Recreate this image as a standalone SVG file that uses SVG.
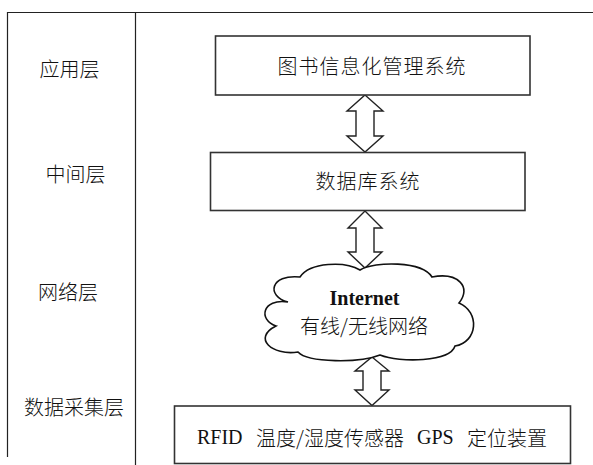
<svg xmlns="http://www.w3.org/2000/svg" width="593" height="465" viewBox="0 0 593 465">
<style>
.frame{stroke:#222;stroke-width:1.2;fill:none}
.box{fill:#fff;stroke:#333;stroke-width:1.6}
.cjk{font-family:"Noto Sans CJK SC","Noto Sans CJK JP",sans-serif;font-size:20px;font-weight:300;fill:#111;dominant-baseline:central}
.lat{font-family:"Liberation Serif","Times New Roman",serif;font-size:20px;fill:#111}
.arrow{fill:#fff;stroke:#222;stroke-width:1.4;stroke-linejoin:miter}
.cloud{fill:#fff;stroke:#111;stroke-width:1.6}
</style>
<rect width="593" height="465" fill="#fff"/>
<g id="frame">
<path class="frame" d="M7.5,457 V12.5 H593 M135.5,12.5 V465"/>
</g>
<g id="labels">
<text class="cjk" x="69.5" y="68" text-anchor="middle">应用层</text>
<text class="cjk" x="75.5" y="173" text-anchor="middle">中间层</text>
<text class="cjk" x="68" y="291.5" text-anchor="middle">网络层</text>
<text class="cjk" x="74" y="406" text-anchor="middle">数据采集层</text>
</g>
<g id="connectors">
<polygon class="arrow" points="365,95 383,111 374,111 374,136 383,136 365,152 347,136 356,136 356,111 347,111"/>
<polygon class="arrow" points="365,211 382,228 374,228 374,252 382,252 365,268 348,252 356,252 356,228 348,228"/>
<polygon class="arrow" points="372,357 389,371 381,371 381,390 389,390 372,405.5 355,390 363,390 363,371 355,371"/>
</g>
<g id="app">
<rect class="box" x="215.5" y="36" width="314.5" height="59"/>
<text class="cjk" x="372" y="65" text-anchor="middle" letter-spacing="1">图书信息化管理系统</text>
</g>
<g id="db">
<rect class="box" x="210.5" y="152.5" width="314.5" height="58"/>
<text class="cjk" x="368" y="180" text-anchor="middle" letter-spacing="1">数据库系统</text>
</g>
<g id="network">
<path class="cloud" d="M288,302 C266,296 270,274 300,277 C310,262 345,261 360,270 C375,261 422,261 432,277 C458,272 472,287 459,303 C480,312 478,342 455,346 C450,362 400,363 380,355 C360,363 308,363 298,352 C272,356 252,338 276,326 C258,320 262,298 288,302 Z"/>
<text class="lat" x="364.5" y="305" text-anchor="middle" font-weight="bold" font-size="19">Internet</text>
<text class="cjk" x="364" y="325" text-anchor="middle">有线/无线网络</text>
</g>
<g id="sensors">
<rect class="box" x="174.5" y="406" width="396" height="57.5"/>
<text class="lat" x="197" y="444">RFID</text>
<text class="cjk" x="256" y="437">温度/湿度传感器</text>
<text class="lat" x="417" y="444">GPS</text>
<text class="cjk" x="467" y="437">定位装置</text>
</g>
</svg>
